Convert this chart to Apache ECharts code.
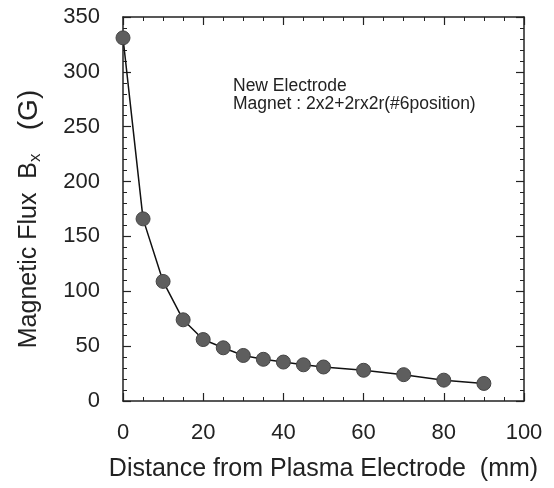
<!DOCTYPE html>
<html>
<head>
<meta charset="utf-8">
<script src="https://cdn.jsdelivr.net/npm/echarts@6/dist/echarts.min.js"></script>
<style>
    html, body { margin: 0; padding: 0; background: #fff; }
    #main { width: 554px; height: 488px; }
</style>
</head>
<body>
<div id="main"></div>
<script>
    // distance from plasma electrode (mm) and measured Bx (G)
    var distance = [0, 5, 10, 15, 20, 25, 30, 35, 40, 45, 50, 60, 70, 80, 90];
    var fluxBx = [331, 166, 109, 74, 56, 48.5, 41.5, 38, 35.5, 33, 31, 28, 24, 19, 16];
    var noteLines = ['New Electrode', 'Magnet : 2x2+2rx2r(#6position)'];

    var points = distance.map(function (d, i) { return [d, fluxBx[i]]; });

    var font = '"Liberation Sans", Arial, Helvetica, sans-serif';
    var axisLine = { show: true, onZero: false, lineStyle: { color: '#222', width: 1.5 } };
    var tick = { show: true, inside: true, length: 8, lineStyle: { color: '#222', width: 1.2 } };
    var minor = { show: true, splitNumber: 4, length: 4, lineStyle: { color: '#222', width: 1 } };
    var minorY = { show: true, splitNumber: 5, length: 4, lineStyle: { color: '#222', width: 1 } };

    var myChart = echarts.init(document.getElementById('main'));
    myChart.setOption({
        animation: false,
        textStyle: { fontFamily: font },
        grid: { left: 123, right: 30, top: 17, bottom: 87 },
        xAxis: [
            {
                type: 'value', min: 0, max: 100, interval: 20,
                axisLine: axisLine, axisTick: tick, minorTick: minor,
                splitLine: { show: false },
                axisLabel: { color: '#222', fontSize: 22, margin: 21, fontFamily: font },
                name: 'Distance from Plasma Electrode  (mm)',
                nameLocation: 'middle', nameGap: 56,
                nameTextStyle: { color: '#222', fontSize: 25, fontFamily: font }
            },
            {
                type: 'value', position: 'top', min: 0, max: 100, interval: 20,
                axisLine: axisLine, axisTick: tick, minorTick: minor,
                splitLine: { show: false }, axisLabel: { show: false }
            }
        ],
        yAxis: [
            {
                type: 'value', min: 0, max: 350, interval: 50,
                axisLine: axisLine, axisTick: tick, minorTick: minorY,
                splitLine: { show: false },
                axisLabel: { color: '#222', fontSize: 22, margin: 23, fontFamily: font },
                name: 'Magnetic Flux  B{sub|x}{g|   (G)}',
                nameLocation: 'middle', nameGap: 80,
                nameTextStyle: {
                    color: '#222', fontSize: 25, fontFamily: font,
                    padding: [0, 20, 0, 0],
                    rich: {
                        sub: { fontSize: 17, color: '#222', fontFamily: font, padding: [0, 0, -12, 0] },
                        g: { fontSize: 28, color: '#222', fontFamily: font }
                    }
                }
            },
            {
                type: 'value', position: 'right', min: 0, max: 350, interval: 50,
                axisLine: axisLine, axisTick: tick, minorTick: minorY,
                splitLine: { show: false }, axisLabel: { show: false }
            }
        ],
        graphic: [
            {
                type: 'text', left: 233, top: 77,
                style: {
                    text: noteLines.join('\n'), fill: '#222',
                    font: '17.5px ' + font, lineHeight: 18
                }
            }
        ],
        series: [
            {
                type: 'line',
                data: points,
                symbol: 'circle',
                symbolSize: 14,
                lineStyle: { color: '#111', width: 1.5 },
                itemStyle: { color: '#5e5e5e', borderColor: '#444', borderWidth: 1 }
            }
        ]
    });
    window.onresize = myChart.resize;
</script>
</body>
</html>
